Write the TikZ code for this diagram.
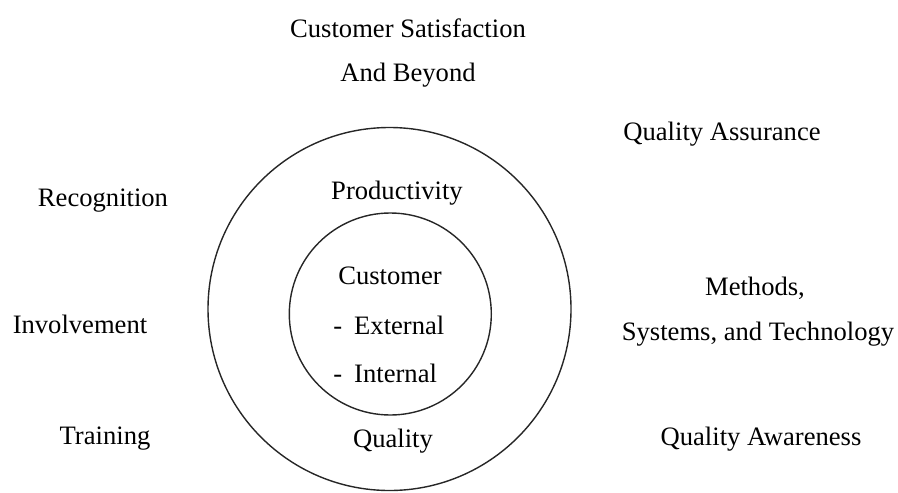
\documentclass[tikz,border=0pt]{standalone}
\usepackage{fontspec}
\setmainfont{Liberation Serif}
\begin{document}
\begin{tikzpicture}[x=0.5pt,y=-0.5pt,lbl/.style={inner sep=0pt,font=\fontsize{13.3}{16}\selectfont},ring/.style={draw=black!85,line width=0.7pt}]
\useasboundingbox (0,0) rectangle (898,492);
\coordinate (outerc) at (389.5,309);
\coordinate (innerc) at (390.3,314);
\draw[ring] (outerc) circle[radius=181.5];
\draw[ring] (innerc) circle[radius=101];
% labels outside the rings
\foreach \x/\y/\nm/\t in %
{408/28/sat/Customer Satisfaction,408/75/beyond/And Beyond,
 103/201/recog/Recognition,80/324/involve/Involvement,105/439/train/Training,
 722/134/assur/Quality Assurance,755/288/meth/{Methods,},
 758/334/sys/{Systems, and Technology},761/439/aware/Quality Awareness} {
   \node[lbl] (\nm) at (\x,\y) {\t};
}
% labels inside the rings
\node[lbl] (prod) at (397,193) {Productivity};
\node[lbl] (cust) at (390,276) {Customer};
\node[lbl,anchor=west] (ext) at (333,325) {-\hspace{0.45em}External};
\node[lbl,anchor=west] (int) at (333,373) {-\hspace{0.45em}Internal};
\node[lbl] (qual) at (393,441) {Quality};
\end{tikzpicture}
\end{document}
